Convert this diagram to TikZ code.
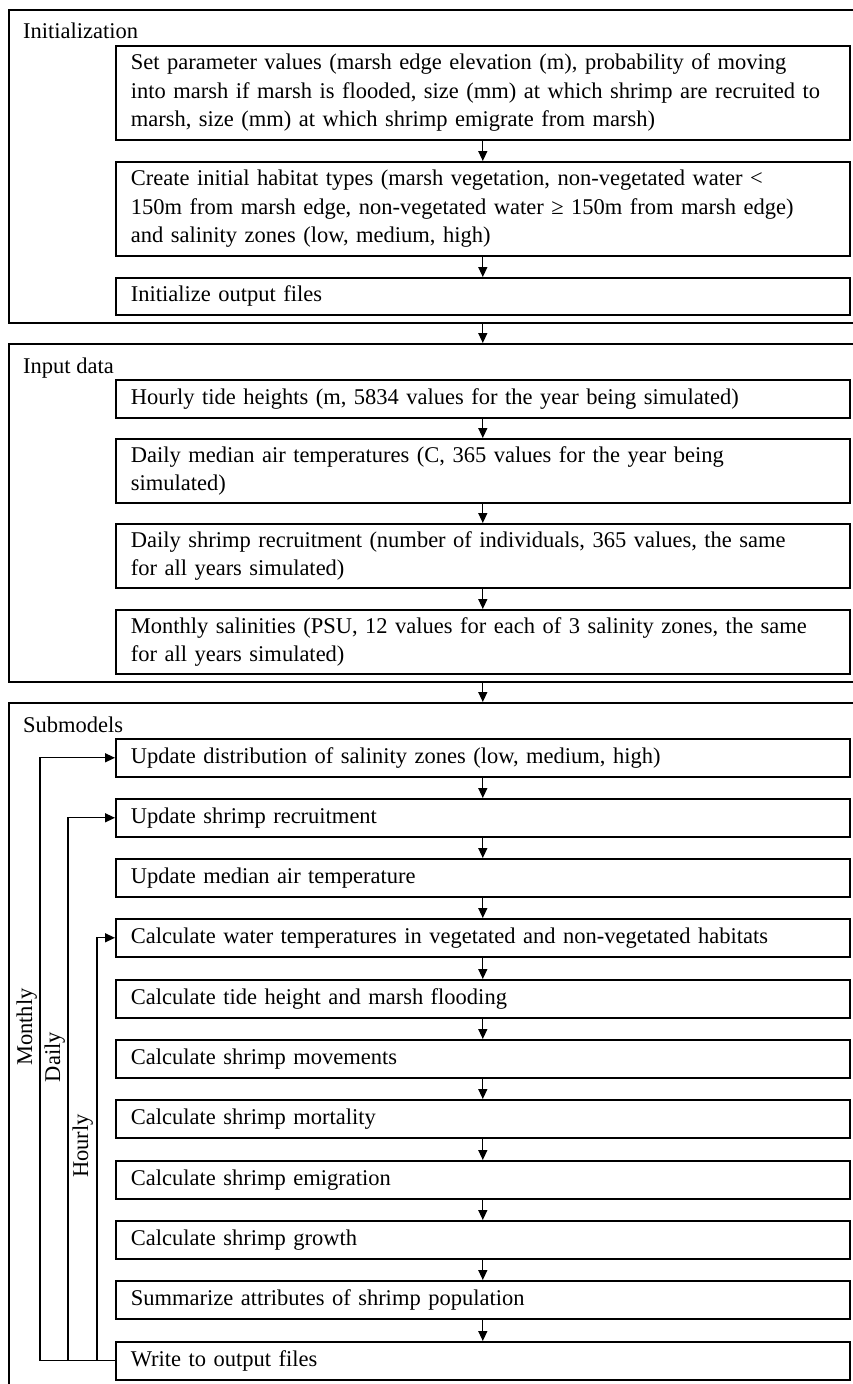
\documentclass[tikz,border=0pt]{standalone}
\usepackage{fontspec}
\setmainfont{Liberation Serif}
\usetikzlibrary{arrows.meta, positioning}

\begin{document}
\begin{tikzpicture}[
            x=1pt, y=-1pt,
            font=\fontsize{22.5}{28.3}\selectfont,
            stepbox/.style={draw=black, line width=1.6pt, anchor=north west, minimum width=734pt, minimum height=38pt, text width=704pt, inner xsep=15pt, inner ysep=0pt, align=left},
            groupbox/.style={draw=black, line width=1.6pt, anchor=north west, minimum width=850pt},
            grouplabel/.style={anchor=base west, inner sep=0pt},
            looplabel/.style={rotate=90, anchor=base, inner sep=0pt},
            arr/.style={-{Triangle[length=10pt, width=9pt]}, line width=1.3pt}
        ]
            \useasboundingbox (0,0) rectangle (852,1384);

            % Initialization group
            \node[groupbox, minimum height=313pt] (initgrp) at (8,9) {};
            \node[grouplabel] (initlbl) at (23,38) {Initialization};
            \node[stepbox, minimum height=94pt] (setpar) at (115,45) {Set parameter values (marsh edge elevation (m), probability of moving\\into marsh if marsh is flooded, size (mm) at which shrimp are recruited to\\marsh, size (mm) at which shrimp emigrate from marsh)};
            \node[stepbox, minimum height=94pt] (habitat) at (115,161) {Create initial habitat types (marsh vegetation, non-vegetated water <\\150m from marsh edge, non-vegetated water ≥ 150m from marsh edge)\\and salinity zones (low, medium, high)};
            \node[stepbox, minimum height=37pt] (initout) at (115,277) {Initialize output files};

            \draw[arr] (setpar.south) -- (habitat.north);
            \draw[arr] (habitat.south) -- (initout.north);

            % Input data group
            \node[groupbox, minimum height=338pt] (inputgrp) at (8,343) {};
            \node[grouplabel] (inputlbl) at (23,373) {Input data};
            \node[stepbox] (tide) at (115,379) {Hourly tide heights (m, 5834 values for the year being simulated)};
            \node[stepbox, minimum height=64pt] (airtemp) at (115,438) {Daily median air temperatures (C, 365 values for the year being\\simulated)};
            \node[stepbox, minimum height=64pt] (recruit) at (115,523) {Daily shrimp recruitment (number of individuals, 365 values, the same\\for all years simulated)};
            \node[stepbox, minimum height=64pt] (salin) at (115,609) {Monthly salinities (PSU, 12 values for each of 3 salinity zones, the same\\for all years simulated)};

            \draw[arr] (tide.south) -- (airtemp.north);
            \draw[arr] (airtemp.south) -- (recruit.north);
            \draw[arr] (recruit.south) -- (salin.north);

            % Submodels group
            \node[groupbox, minimum height=700pt] (subgrp) at (8,702) {};
            \node[grouplabel] (sublbl) at (23,732) {Submodels};
            \node[stepbox] (zones) at (115,738) {Update distribution of salinity zones (low, medium, high)};
            \node[stepbox] (recr) at (115,798) {Update shrimp recruitment};
            \node[stepbox] (airmed) at (115,858) {Update median air temperature};
            \node[stepbox] (water) at (115,918) {Calculate water temperatures in vegetated and non-vegetated habitats};
            \node[stepbox] (flood) at (115,979) {Calculate tide height and marsh flooding};
            \node[stepbox] (move) at (115,1039) {Calculate shrimp movements};
            \node[stepbox] (mort) at (115,1099) {Calculate shrimp mortality};
            \node[stepbox] (emig) at (115,1160) {Calculate shrimp emigration};
            \node[stepbox] (grow) at (115,1220) {Calculate shrimp growth};
            \node[stepbox] (summ) at (115,1280) {Summarize attributes of shrimp population};
            \node[stepbox] (writeout) at (115,1341) {Write to output files};

            \draw[arr] (zones.south) -- (recr.north);
            \draw[arr] (recr.south) -- (airmed.north);
            \draw[arr] (airmed.south) -- (water.north);
            \draw[arr] (water.south) -- (flood.north);
            \draw[arr] (flood.south) -- (move.north);
            \draw[arr] (move.south) -- (mort.north);
            \draw[arr] (mort.south) -- (emig.north);
            \draw[arr] (emig.south) -- (grow.north);
            \draw[arr] (grow.south) -- (summ.north);
            \draw[arr] (summ.south) -- (writeout.north);

            % Connections between groups
            \draw[arr] (initout.south |- initgrp.south) -- (tide.north |- inputgrp.north);
            \draw[arr] (salin.south |- inputgrp.south) -- (zones.north |- subgrp.north);

            % Time loops
            \draw[arr] (writeout.west) -- ++(-75,0) |- (zones.west);
            \draw[arr] (writeout.west) -- ++(-47,0) |- (recr.west);
            \draw[arr] (writeout.west) -- ++(-18,0) |- (water.west);

            \node[looplabel] (monthly) at (32,1027) {Monthly};
            \node[looplabel] (daily) at (60,1057) {Daily};
            \node[looplabel] (hourly) at (88,1146) {Hourly};

        \end{tikzpicture}
\end{document}
